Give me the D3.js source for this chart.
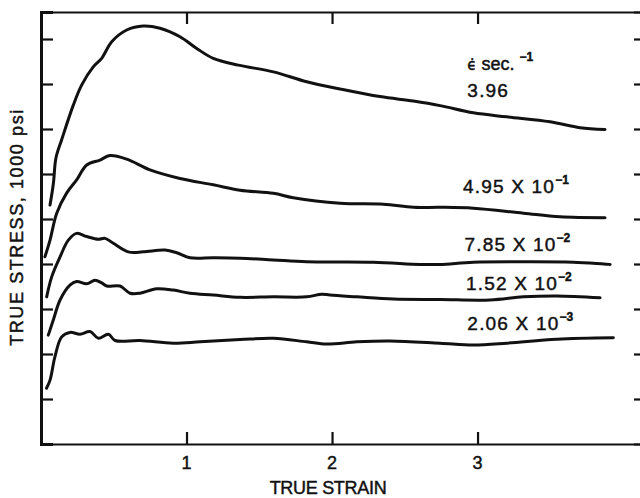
<!DOCTYPE html>
<html><head><meta charset="utf-8">
<script src="https://cdn.jsdelivr.net/npm/d3@7"></script>
<style>
html,body{margin:0;padding:0;background:#fff;}
svg text{font-family:"Liberation Sans",Arial,Helvetica,sans-serif;fill:#111;stroke:#111;stroke-width:0.45px;}
</style></head>
<body>
<svg id="chart" width="640" height="498"></svg>
<script>
// ---- data (true strain, true stress in 1000 psi tick units) ----
const curve396 = [[0.062,53.1],[0.085,57.9],[0.103,63.6],[0.142,67.6],[0.222,75.3],[0.280,79.8],[0.359,83.8],[0.417,85.7],[0.486,89.4],[0.589,92.0],[0.703,92.9],[0.818,92.4],[0.955,90.5],[1.070,87.9],[1.184,85.7],[1.356,84.2],[1.597,82.7],[1.826,80.5],[2.055,78.9],[2.330,77.2],[2.559,76.2],[2.742,75.2],[2.971,73.6],[3.201,72.7],[3.498,71.6],[3.704,70.3],[3.876,69.9]];
const curve495 = [[0.027,41.6],[0.062,45.3],[0.108,51.3],[0.177,55.8],[0.245,58.7],[0.314,62.0],[0.405,63.1],[0.474,64.1],[0.589,63.3],[0.749,60.9],[0.955,59.0],[1.184,57.6],[1.368,56.4],[1.597,55.7],[1.734,54.7],[2.055,53.5],[2.353,53.3],[2.559,52.6],[2.742,52.6],[2.971,52.4],[3.315,51.3],[3.567,50.5],[3.876,50.3]];
const curve785 = [[0.039,32.7],[0.074,37.2],[0.131,41.6],[0.188,45.3],[0.245,46.8],[0.314,46.1],[0.394,45.5],[0.440,45.7],[0.497,44.6],[0.600,42.7],[0.703,42.7],[0.852,43.1],[0.933,42.5],[1.024,41.4],[1.184,41.4],[1.368,41.3],[1.597,40.9],[1.826,40.5],[2.284,40.4],[2.605,39.9],[2.742,39.9],[2.971,40.4],[3.315,40.5],[3.658,40.4],[3.911,39.9]];
const curve152 = [[0.050,24.2],[0.085,27.6],[0.131,32.0],[0.199,35.3],[0.245,36.1],[0.314,35.6],[0.371,36.4],[0.417,35.8],[0.452,35.1],[0.543,35.1],[0.612,33.5],[0.680,33.5],[0.795,34.5],[0.909,34.2],[1.024,33.5],[1.184,33.1],[1.368,32.6],[1.597,32.7],[1.826,32.7],[1.929,33.3],[1.986,33.1],[2.170,32.7],[2.421,32.2],[2.742,32.1],[3.086,32.0],[3.315,32.7],[3.544,32.9],[3.842,32.5]];
const curve206 = [[0.038,12.4],[0.062,14.2],[0.096,19.4],[0.142,23.8],[0.199,24.8],[0.268,24.4],[0.337,25.0],[0.394,23.5],[0.463,24.4],[0.509,23.0],[0.680,23.0],[0.909,22.4],[1.093,22.7],[1.368,23.2],[1.597,23.5],[1.826,22.7],[1.964,22.2],[2.170,22.7],[2.399,22.9],[2.742,22.4],[2.971,22.0],[3.201,22.4],[3.544,23.3],[3.933,23.6]];
const rateMantissa = ["3.96","4.95 X 10","7.85 X 10","1.52 X 10","2.06 X 10"];
const rateExponent = ["","−1","−2","−2","−3"];
const xTickValues = [1,2,3];
const xTickLabels = ["1","2","3"];
const yTickValues = [10,20,30,40,50,60,70,80,90];
const xTitle = "TRUE STRAIN";
const yTitle = "TRUE STRESS, 1000 psi";
const legendTitle = "sec.";
const legendTitleExp = "−1";

// ---- layout ----
const series = [curve396, curve495, curve785, curve152, curve206];
const labelAnchor = [[2.93,77.1],[2.90,55.8],[2.91,42.9],[2.92,34.2],[2.93,25.3]];
const headerAnchor = [2.93,83.1];

const svg = d3.select("#chart");
const L = 41, T = 12, B = 444, R = 643;
const x = d3.scaleLinear().domain([0, 4.137]).range([L, R]);
const y = d3.scaleLinear().domain([0, 96]).range([B, T]);

// axes (ticks inward)
const gB = svg.append("g").attr("transform",`translate(0,${B})`)
  .call(d3.axisTop(x).tickValues(xTickValues).tickSize(12).tickFormat(""));
const gT = svg.append("g").attr("transform",`translate(0,${T})`)
  .call(d3.axisBottom(x).tickValues(xTickValues).tickSize(12).tickFormat(""));
const gL = svg.append("g").attr("transform",`translate(${L},0)`)
  .call(d3.axisRight(y).tickValues(yTickValues).tickSize(12).tickFormat(""));
const gR = svg.append("g").attr("transform",`translate(${R},0)`)
  .call(d3.axisLeft(y).tickValues(yTickValues).tickSize(9).tickFormat(""));
[gB,gT,gL,gR].forEach(g=>{
  g.selectAll(".tick line").attr("stroke","#111").attr("stroke-width",2.2);
  g.select(".domain").attr("stroke","#111").attr("stroke-width",2.2);
});
gL.select(".domain").attr("stroke-width",3);

// tick labels
svg.append("g").selectAll("text").data(xTickValues).join("text")
  .attr("x",d=>x(d)).attr("y",B+25).attr("text-anchor","middle")
  .attr("font-size",18).text((d,i)=>xTickLabels[i]);

// titles
svg.append("text").attr("x",328).attr("y",494)
  .attr("text-anchor","middle").attr("font-size",18).attr("letter-spacing",-0.3).text(xTitle);
svg.append("text").attr("transform",`translate(23,${227}) rotate(-90)`)
  .attr("text-anchor","middle").attr("font-size",18).attr("letter-spacing",1.6).text(yTitle);

// curves
const line = d3.line().x(d=>x(d[0])).y(d=>y(d[1])).curve(d3.curveCatmullRom.alpha(0.5));
svg.append("g").selectAll("path").data(series).join("path")
  .attr("d",line).attr("fill","none").attr("stroke","#111")
  .attr("stroke-width",3).attr("stroke-linejoin","round").attr("stroke-linecap","round");

// header label
const hdr = svg.append("text").attr("x",x(headerAnchor[0])).attr("y",y(headerAnchor[1])).attr("font-size",18);
hdr.append("tspan").attr("font-family","DejaVu Sans").attr("font-size",15).text("ϵ\u0307");
hdr.append("tspan").attr("dx",5).text(legendTitle);
hdr.append("tspan").attr("dx",5).attr("dy",-9).attr("font-size",12).attr("font-weight","bold").text(legendTitleExp);

// rate labels
const lab = svg.append("g").selectAll("text").data(rateMantissa).join("text")
  .attr("x",(d,i)=>x(labelAnchor[i][0])).attr("y",(d,i)=>y(labelAnchor[i][1]))
  .attr("font-size",19).attr("letter-spacing",1.2);
lab.append("tspan").text(d=>d);
lab.append("tspan").attr("dy",-9).attr("font-size",12).attr("letter-spacing",0)
  .attr("font-weight","bold").text((d,i)=>rateExponent[i]);
</script>
</body></html>
